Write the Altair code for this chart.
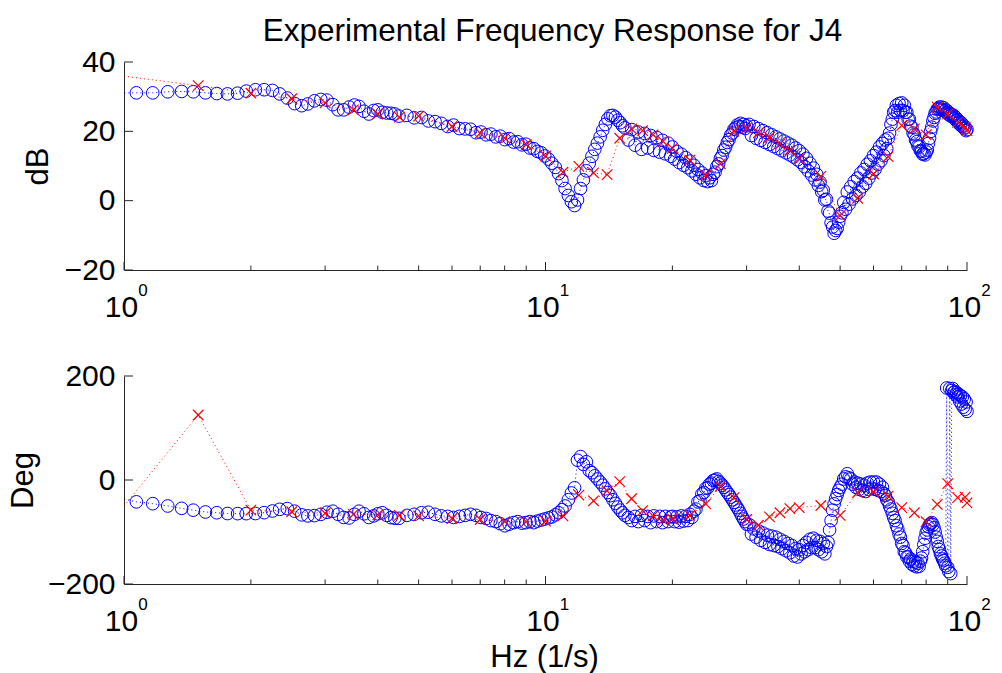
import altair as alt
import pandas as pd

FONT = "Liberation Sans"
BLUE = "#0000ff"
RED = "#ff0000"
AX = "#262626"

# ---------------- measured (blue circles) ----------------
blue_f = [
    0.98, 1.07, 1.17, 1.27, 1.37, 1.46, 1.56, 1.66, 1.76, 1.86, 1.95, 2.05, 2.15, 2.25, 2.34, 2.44,
    2.54, 2.64, 2.73, 2.83, 2.93, 3.03, 3.13, 3.22, 3.32, 3.42, 3.52, 3.61, 3.71, 3.81, 3.91, 4.00,
    4.10, 4.20, 4.30, 4.39, 4.49,
    4.69, 4.88, 5.08, 5.27, 5.47, 5.66, 5.86, 6.05, 6.25, 6.45, 6.64, 6.84, 7.03, 7.23, 7.42, 7.62,
    7.81, 8.01, 8.20, 8.40, 8.59, 8.79, 8.98, 9.18, 9.38, 9.57, 9.77, 9.96,
    10.16, 10.35, 10.55, 10.74, 10.94, 11.13, 11.33, 11.52, 11.72, 11.91, 12.11, 12.30, 12.50, 12.70,
    12.89, 13.09, 13.28, 13.48, 13.67, 13.87, 14.06, 14.26, 14.45, 14.65, 14.84, 15.04, 15.23, 15.43,
    15.72, 16.02, 16.31, 16.60, 16.90, 17.19, 17.48, 17.77, 18.07, 18.36, 18.65, 18.95, 19.24, 19.53, 19.82,
    20.0, 20.25, 20.5, 20.75, 21.0, 21.25, 21.5, 21.75, 22.0, 22.25, 22.5, 22.75, 23.0, 23.25, 23.5,
    23.75, 24.0, 24.25, 24.5, 24.75, 25.0, 25.25, 25.5, 25.75, 26.0, 26.25, 26.5, 26.75, 27.0, 27.25,
    27.5, 27.75, 28.0, 28.25, 28.5, 28.75, 29.0, 29.25, 29.5, 29.75, 30.0,
    30.4, 30.8, 31.2, 31.6, 32.0, 32.4, 32.8, 33.2, 33.6, 34.0, 34.4, 34.8, 35.2, 35.6, 36.0, 36.4,
    36.8, 37.2, 37.6, 38.0, 38.4, 38.8, 39.2, 39.6, 40.0, 40.4, 40.8, 41.2, 41.6, 42.0, 42.4, 42.8,
    43.2, 43.6, 44.0, 44.4, 44.8, 45.2, 45.6, 46.0, 46.4, 46.8, 47.2, 47.6, 48.0, 48.4, 48.8, 49.2,
    49.6, 50.0,
    50.5, 51.0, 51.5, 52.0, 52.5, 53.0, 53.5, 54.0, 54.5, 55.0,
    55.5, 56.0, 56.5, 57.0, 57.5, 58.0, 58.5, 59.0, 59.5, 60.0,
    60.5, 61.0, 61.5, 62.0, 62.5, 63.0, 63.5, 64.0, 64.5, 65.0,
    65.5, 66.0, 66.5, 67.0, 67.5, 68.0, 68.5, 69.0, 69.5, 70.0,
    70.5, 71.0, 71.5, 72.0, 72.5, 73.0, 73.5, 74.0, 74.5, 75.0,
    75.5, 76.0, 76.5, 77.0, 77.5, 78.0, 78.5, 79.0, 79.5, 80.0,
    80.5, 81.0, 81.5, 82.0, 82.5, 83.0, 83.5, 84.0, 84.5, 85.0,
    85.5, 86.0, 86.5, 87.0, 87.5, 88.0, 88.5, 89.0, 89.5, 90.0,
    90.5, 91.0, 91.5, 92.0, 92.5, 93.0, 93.5, 94.0, 94.5, 95.0,
    95.5, 96.0, 96.5, 97.0, 97.5, 98.0, 98.5, 99.0, 99.5, 100.0,
]
blue_db = [
    31.1, 31.1, 31.1, 31.4, 31.5, 31.4, 31.1, 30.9, 30.8, 31.0, 31.6, 32.0, 32.0, 31.8, 30.8, 29.6,
    28.0, 27.4, 27.9, 28.8, 29.2, 29.0, 27.7, 26.2, 26.2, 27.0, 27.6, 27.2, 25.8, 25.0, 26.0, 26.2,
    25.5, 25.3, 25.2, 25.0, 24.4,
    24.6, 23.9, 24.0, 23.0, 22.8, 22.3, 21.4, 21.8, 20.8, 20.7, 20.6, 19.6, 19.8, 19.0, 19.2, 18.4,
    18.6, 17.6, 17.9, 16.9, 17.0, 16.1, 16.3, 15.2, 15.0, 14.2, 13.8, 12.9,
    12.0, 10.8, 9.6, 7.8, 5.8, 3.5, 1.5, -0.3, -1.4, 0.2, 3.5, 6.0, 8.6, 10.8,
    12.8, 14.8, 16.6, 18.4, 20.3, 22.0, 23.6, 24.5, 24.6, 24.1, 23.2, 22.5, 21.6, 21.0,
    17.5, 20.5, 16.0, 19.8, 14.8, 19.4, 15.2, 18.8, 14.5, 18.2, 14.0, 17.4, 13.5, 16.6, 12.8,
    15.5, 12.0, 14.2, 11.0, 13.4, 10.2, 12.4, 9.5, 11.4, 8.6, 10.2, 7.6, 9.0, 6.6, 8.0,
    5.8, 7.2, 5.5, 6.6, 5.8, 7.6, 8.2, 9.8, 10.6, 12.2, 13.0, 14.6, 15.4, 16.8, 17.6,
    18.9, 19.5, 20.6, 21.0, 21.8, 21.4, 22.3, 21.2, 22.0, 20.8, 21.6,
    22.0, 18.8, 21.4, 18.0, 20.8, 17.4, 20.2, 16.8, 19.6, 16.2, 19.0, 15.6, 18.4, 15.0, 17.8, 14.4,
    17.2, 13.8, 16.6, 13.2, 16.0, 12.6, 15.2, 11.8, 14.4, 11.0, 13.4, 9.8, 12.2, 8.6, 10.8, 7.4,
    9.4, 6.0, 7.6, 4.4, 5.4, 2.6, 3.0, 0.2, 0.4, -3.0, -3.6, -6.4, -7.6, -9.4, -8.6, -8.0,
    -6.2, -4.5,
    -3.5, -0.5, -2.5, 2.5, -1.0, 4.0, 0.5, 5.5, 1.5, 6.5,
    2.5, 8.0, 4.0, 9.0, 5.0, 10.5, 6.5, 11.5, 8.0, 13.0,
    9.0, 14.0, 10.5, 15.5, 11.5, 16.5, 13.0, 17.5, 15.0, 18.0,
    19.5, 22.0, 23.5, 25.5, 26.0, 27.5, 25.5, 28.0, 26.0, 28.2,
    26.0, 27.5, 25.5, 25.5, 23.5, 23.5, 21.5, 21.2, 19.5, 19.0,
    17.5, 17.0, 15.8, 15.5, 14.4, 14.2, 13.4, 13.6, 13.2, 14.0,
    14.6, 16.5, 18.0, 20.0, 21.2, 23.0, 24.0, 25.2, 25.6, 26.4,
    26.6, 27.0, 26.4, 27.0, 26.2, 26.8, 25.8, 26.2, 25.4, 25.8,
    24.8, 25.2, 24.4, 24.8, 24.2, 24.6, 23.6, 24.0, 23.0, 23.4,
    22.4, 22.8, 21.8, 22.4, 21.4, 21.8, 20.8, 21.2, 20.2, 20.5,
]
blue_deg = [
    -35.3, -42, -45.5, -50, -54.5, -58, -61.5, -63, -64.5, -64.7, -64.7, -64.5, -62.8, -59.6, -56.4, -55,
    -60, -67, -69, -68.5, -66, -62, -60, -66, -72, -73, -66, -60, -65, -72, -69, -65,
    -63, -68, -72.4, -73.5, -73.7,
    -68, -66, -63, -62, -66, -69, -70, -72, -70, -68, -66, -68, -72, -74, -78, -80,
    -84, -88, -85, -82, -80, -83, -82, -80, -82, -79, -77, -75,
    -73, -71, -67, -63, -57, -50, -38, -25, -15, 38, 45, 30, 35, 18,
    14, 8, 2, -4, -10, -17, -24, -30, -38, -45, -52, -58, -63, -68,
    -72, -78, -70, -80, -68, -78, -70, -82, -69, -80, -70, -82, -70, -80, -71,
    -70, -80, -71, -81, -69, -79, -70, -78, -66, -72, -60, -56, -42, -40, -27,
    -24, -16, -15, -8, -6, -1, 0, 2, -3, -6, -10, -14, -19, -24, -28,
    -33, -38, -43, -48, -53, -58, -64, -70, -75, -80, -85,
    -86, -104, -94, -110, -98, -116, -102, -120, -106, -124, -108, -126, -110, -128, -114, -132,
    -118, -136, -122, -140, -126, -146, -132, -148, -134, -142, -126, -138, -120, -134, -114, -130,
    -112, -130, -116, -134, -118, -138, -122, -142, -128, -120, -96, -78, -58, -46, -36, -28,
    -20, -14,
    -8, 2, 6, 12, 4, 2, -8, -4, -14, -6,
    -18, -8, -20, -10, -22, -6, -18, -4, -16, -4,
    -18, -4, -20, -8, -22, -14, -26, -30, -38, -42,
    -50, -56, -64, -72, -78, -88, -94, -104, -110, -122,
    -126, -138, -140, -148, -148, -156, -152, -162, -156, -165,
    -158, -167, -160, -166, -156, -150, -138, -124, -112, -102,
    -96, -90, -86, -84, -82, -86, -92, -100, -110, -118,
    -128, -134, -142, -146, -152, -155, -160, -165, 177, -168,
    -176, 176, -180, 172, 176, 168, 170, 164, 168, 160,
    165, 152, 162, 146, 160, 140, 156, 136, 150, 132,
]

# ---------------- model / reference (red crosses) ----------------
red_f = [1.0, 1.5, 2, 2.5, 3, 3.5, 4, 4.5, 5, 6, 7, 8, 9, 10, 11, 12, 13, 14, 15, 16, 17, 18, 19, 20,
         22, 24, 26, 28, 30, 32, 34, 36, 38, 40, 45, 50, 55, 60, 65, 70, 75, 80, 85, 90, 95, 99, 100]
red_db = [35.9, 33.2, 31.0, 29.4, 28.2, 26.2, 25.0, 24.1, 24.4, 21.4, 19.5, 18.1, 16.2, 12.9, 8.2, 9.9,
          8.0, 7.5, 18.0, 20.7, 20.2, 19.0, 17.1, 15.1, 11.7, 7.4, 10.6, 20.0, 21.0, 19.6, 18.3, 16.4,
          14.6, 12.2, 7.0, -4.3, 0.7, 7.7, 12.7, 21.7, 20.7, 19.0, 27.0, 25.0, 22.6, 21.2, 20.2]
red_deg = [-50, 125, -58, -61, -64, -66, -67, -68, -69, -74, -76, -80, -80, -79, -69, -29, -40, -21,
           -3, -36, -59, -69, -77, -75, -68, -46, -12, -34, -76, -87, -71, -63, -55, -53, -49, -68,
           -24, -23, -31, -53, -63, -80, -47, -7, -34, -33, -44]

x_major = [1, 10, 100]
x_minor = [2, 3, 4, 5, 6, 7, 8, 9, 20, 30, 40, 50, 60, 70, 80, 90]
x_sup = ["0", "1", "2"]
db_ticks = [-20, 0, 20, 40]
deg_ticks = [-200, 0, 200]

W, H = 843, 208

blue = pd.DataFrame({"f": blue_f, "db": blue_db, "deg": blue_deg})
red = pd.DataFrame({"f": red_f, "db": red_db, "deg": red_deg})
majors = pd.DataFrame({"f": x_major, "s": x_sup})
minors = pd.DataFrame({"f": x_minor})

xs = alt.Scale(type="log", domain=[1, 100], nice=False)
XPATH = "M-1,-1L1,1M-1,1L1,-1"


def panel(col, ydom, yticks, ytitle, ytitle_x, xtitle):
    ys = alt.Scale(domain=ydom, nice=False, zero=False)
    xkw = dict(values=x_major, labelExpr="'10'", ticks=False, tickSize=0, grid=False,
               labelFlush=False, labelOverlap=False, labelFont=FONT, labelFontSize=30,
               labelColor="black", labelBaseline="alphabetic", labelPadding=46, labelOffset=-3,
               domainColor=AX, domainWidth=1)
    if xtitle:
        xkw.update(titleFont=FONT, titleFontSize=31, titleFontWeight="normal", titleColor="black",
                   titleX=420, titleY=82, titleAlign="center", titleBaseline="alphabetic",
                   titleAngle=0)
    xaxis = alt.Axis(**xkw)
    yaxis = alt.Axis(values=yticks, ticks=False, tickSize=0, grid=False, labelFlush=False,
                     labelOverlap=False, labelFont=FONT, labelFontSize=30, labelColor="black",
                     labelPadding=9, domainColor=AX, domainWidth=1, titleFont=FONT,
                     titleFontSize=31, titleFontWeight="normal", titleColor="black",
                     titleX=ytitle_x, titleY=H / 2, titleAngle=270, titleAlign="center",
                     titleBaseline="alphabetic")
    if xtitle:
        X = alt.X("f:Q", scale=xs, axis=xaxis, title=xtitle)
    else:
        X = alt.X("f:Q", scale=xs, axis=xaxis, title=None)
    Y = alt.Y(f"{col}:Q", scale=ys, axis=yaxis, title=ytitle)

    blue_line = alt.Chart(blue).mark_line(clip=True, color=BLUE, strokeWidth=1,
                                          strokeDash=[1, 3]).encode(x=X, y=Y)
    blue_pts = alt.Chart(blue).transform_filter("datum.f >= 1").mark_point(
        shape="circle", filled=False, size=160, strokeWidth=1, color=BLUE, opacity=1
    ).encode(x=X, y=Y)
    red_line = alt.Chart(red).mark_line(clip=True, color=RED, strokeWidth=1,
                                        strokeDash=[1, 3]).encode(x=X, y=Y)
    red_pts = alt.Chart(red).transform_filter("datum.f > 1").mark_point(
        shape=XPATH, filled=False, size=110, strokeWidth=1.2, color=RED, opacity=1
    ).encode(x=X, y=Y)
    tmaj = alt.Chart(majors).mark_rule(color=AX, strokeWidth=1).encode(
        x=X, y=alt.value(H), y2=alt.value(H - 8))
    tmin = alt.Chart(minors).mark_rule(color=AX, strokeWidth=1).encode(
        x=X, y=alt.value(H), y2=alt.value(H - 4.5))
    ytk = alt.Chart(pd.DataFrame({col: yticks})).mark_rule(color=AX, strokeWidth=1).encode(
        y=Y, x=alt.value(0), x2=alt.value(9))
    sup = alt.Chart(majors).mark_text(font=FONT, fontSize=17, align="center",
                                      baseline="alphabetic", dx=19, color="black").encode(
        x=X, y=alt.value(H + 26), text="s:N")
    return alt.layer(blue_line, blue_pts, red_line, red_pts, tmaj, tmin, ytk, sup).properties(
        width=W, height=H)


top = panel("db", [-20, 40], db_ticks, "dB", -77, None).properties(
    title=alt.TitleParams(text="Experimental Frequency Response for J4", font=FONT,
                          fontSize=31.5, fontWeight="normal", color="black", anchor="middle",
                          baseline="alphabetic", offset=-25, dx=7))
bottom = panel("deg", [-200, 200], deg_ticks, "Deg", -92, "Hz (1/s)")

chart = alt.vconcat(top, bottom, spacing=106, bounds="flush").properties(
    padding={"left": 7, "top": 15, "right": 5, "bottom": 5},
    background="white",
).configure_view(strokeWidth=0)

chart.save("out.html", embed_options={"renderer": "svg", "actions": False})
